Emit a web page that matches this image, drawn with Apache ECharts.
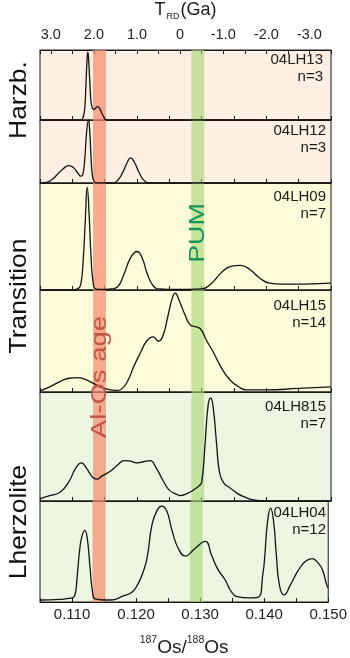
<!DOCTYPE html>
<html>
<head>
<meta charset="utf-8">
<script src="https://cdn.jsdelivr.net/npm/echarts@6/dist/echarts.min.js"></script>
<style>
  html, body { margin: 0; padding: 0; background: #ffffff; }
  #chart { width: 350px; height: 658px; }
</style>
</head>
<body>
<div id="chart"></div>
<script>
// Probability density of 187Os/188Os for each xenolith sample (relative density, peak ~1)
const LH13 = [
  [0.1050, 0], [0.1113, 0], [0.1116, 0.02], [0.1119, 0.15], [0.1121, 0.5], [0.1123, 0.9],
  [0.1124, 0.97], [0.1125, 0.9], [0.1127, 0.55], [0.1129, 0.25], [0.1131, 0.17], [0.1133, 0.15],
  [0.1136, 0.17], [0.1139, 0.19], [0.1142, 0.17], [0.1146, 0.09], [0.1150, 0.02], [0.1153, 0],
  [0.1500, 0]
];
const LH12 = [
  [0.1050, 0], [0.1058, 0.005], [0.1068, 0.05], [0.1080, 0.17], [0.1090, 0.26], [0.1095, 0.275],
  [0.1102, 0.24], [0.1109, 0.15], [0.1113, 0.11], [0.1116, 0.13], [0.1119, 0.35], [0.1122, 0.8],
  [0.1125, 1.0], [0.1127, 0.8], [0.1129, 0.4], [0.1131, 0.12], [0.1134, 0.02], [0.1138, 0],
  [0.1162, 0], [0.1170, 0.04], [0.1178, 0.17], [0.1185, 0.33], [0.1190, 0.40], [0.1196, 0.33],
  [0.1204, 0.15], [0.1212, 0.03], [0.1220, 0], [0.1500, 0]
];
const LH09 = [
  [0.1050, 0], [0.1100, 0], [0.1108, 0.01], [0.1113, 0.05], [0.1117, 0.3], [0.1120, 0.65],
  [0.1123, 0.96], [0.1126, 0.7], [0.1129, 0.3], [0.1132, 0.08], [0.1136, 0.01], [0.1145, 0.005],
  [0.1160, 0.01], [0.1170, 0.03], [0.1180, 0.15], [0.1190, 0.30], [0.1200, 0.36], [0.1208, 0.30],
  [0.1216, 0.15], [0.1225, 0.04], [0.1235, 0.01], [0.1260, 0.005], [0.1300, 0.01], [0.1315, 0.06],
  [0.1330, 0.16], [0.1345, 0.22], [0.1360, 0.23], [0.1375, 0.19], [0.1390, 0.11], [0.1405, 0.065],
  [0.1425, 0.055], [0.1450, 0.055], [0.1480, 0.06], [0.1500, 0.065]
];
const LH15 = [
  [0.1050, 0.01], [0.1065, 0.05], [0.1080, 0.10], [0.1095, 0.135], [0.1109, 0.14], [0.1125, 0.11],
  [0.1140, 0.06], [0.1155, 0.025], [0.1168, 0.015], [0.1175, 0.025], [0.1185, 0.10], [0.1195, 0.25],
  [0.1205, 0.38], [0.1215, 0.50], [0.1225, 0.54], [0.1233, 0.50], [0.1240, 0.55], [0.1248, 0.75],
  [0.1255, 0.93], [0.1259, 0.97], [0.1265, 0.90], [0.1274, 0.76], [0.1282, 0.66], [0.1290, 0.64],
  [0.1298, 0.62], [0.1308, 0.50], [0.1318, 0.39], [0.1333, 0.21], [0.1345, 0.11], [0.1355, 0.06],
  [0.1370, 0.02], [0.1400, 0.02], [0.1450, 0.035], [0.1500, 0.05]
];
const LH815 = [
  [0.1050, 0.02], [0.1065, 0.05], [0.1081, 0.08], [0.1095, 0.18], [0.1105, 0.30], [0.1114, 0.35],
  [0.1122, 0.30], [0.1131, 0.22], [0.1138, 0.20], [0.1146, 0.23], [0.1158, 0.27], [0.1170, 0.33],
  [0.1180, 0.37], [0.1190, 0.365], [0.1199, 0.35], [0.1210, 0.36], [0.1220, 0.37], [0.1230, 0.30],
  [0.1240, 0.19], [0.1250, 0.10], [0.1262, 0.06], [0.1267, 0.05], [0.1278, 0.07], [0.1287, 0.10],
  [0.1296, 0.14], [0.1300, 0.17], [0.1305, 0.50], [0.1310, 0.88], [0.1314, 0.945], [0.1318, 0.85],
  [0.1323, 0.53], [0.1328, 0.25], [0.1335, 0.16], [0.1344, 0.12], [0.1355, 0.07], [0.1365, 0.04],
  [0.1380, 0.01], [0.1400, 0], [0.1500, 0]
];
const LH04 = [
  [0.1050, 0.02], [0.1080, 0.025], [0.1095, 0.035], [0.1104, 0.06], [0.1108, 0.25], [0.1111, 0.46],
  [0.1115, 0.64], [0.1120, 0.71], [0.1124, 0.62], [0.1128, 0.35], [0.1132, 0.10], [0.1136, 0.03],
  [0.1150, 0.02], [0.1160, 0.02], [0.1180, 0.06], [0.1194, 0.10], [0.1203, 0.18], [0.1210, 0.28],
  [0.1217, 0.43], [0.1225, 0.77], [0.1233, 0.91], [0.1240, 0.95], [0.1248, 0.90], [0.1256, 0.71],
  [0.1266, 0.53], [0.1277, 0.455], [0.1292, 0.53], [0.1308, 0.60], [0.1318, 0.46], [0.1328, 0.32],
  [0.1339, 0.22], [0.1349, 0.10], [0.1360, 0.05], [0.1375, 0.04], [0.1390, 0.045], [0.1398, 0.28],
  [0.1401, 0.46], [0.1405, 0.78], [0.1410, 0.93], [0.1415, 0.78], [0.1419, 0.46], [0.1424, 0.16],
  [0.1431, 0.07], [0.1441, 0.17], [0.1452, 0.30], [0.1464, 0.40], [0.1475, 0.43], [0.1485, 0.38],
  [0.1491, 0.32], [0.1498, 0.16], [0.1500, 0.14]
];

const sampleCurves = [LH13, LH12, LH09, LH15, LH815, LH04];
const sampleNames = ['04LH13', '04LH12', '04LH09', '04LH15', '04LH815', '04LH04'];
const sampleCounts = [3, 3, 7, 14, 7, 12];
const lithologies = ['Harzb.', 'Transition', 'Lherzolite'];

// Reference ranges drawn as vertical bands
const alOsAgeBand = [0.1132, 0.1152];
const pumBand = [0.1284, 0.1304];

// Axis ranges
const osRange = [0.105, 0.150];
const trdRange = [-3.5, 3.25];

// ---- layout ----
const FONT = 'Liberation Sans, Arial, Helvetica, sans-serif';
const panelTops = [44, 120, 183, 290, 392, 501];
const panelBottom = 612;
const panelBg = ['#fdf0e2', '#fdf0e2', '#fdfbd9', '#fdfbd9', '#edf6e1', '#edf6e1'];
const plotLeft = 40, plotRight = 331;

const chart = echarts.init(document.getElementById('chart'), null, { renderer: 'canvas' });

const grids = [], xAxes = [], yAxes = [], series = [], graphics = [];

panelTops.forEach((top, i) => {
  const bottom = i < panelTops.length - 1 ? panelTops[i + 1] : panelBottom;
  grids.push({
    left: plotLeft, width: plotRight - plotLeft, top: top, height: bottom - top,
    show: true, backgroundColor: panelBg[i], borderColor: '#1a1a1a', borderWidth: 1
  });
  const isLast = i === panelTops.length - 1;
  xAxes.push({
    type: 'value', gridIndex: i, min: osRange[0], max: osRange[1], interval: 0.005,
    position: 'bottom',
    axisLine: { show: true, lineStyle: { color: '#1a1a1a', width: 1.2 } },
    axisTick: { show: true, inside: true, length: 4, lineStyle: { color: '#1a1a1a', width: 1 } },
    splitLine: { show: false },
    axisLabel: {
      show: isLast, margin: 5, fontSize: 15, color: '#1e1e1e', fontFamily: FONT,
      showMinLabel: true, showMaxLabel: true,
      formatter: v => { const k = Math.round(v * 1000); return k % 10 === 0 ? (k / 1000).toFixed(3) : ''; }
    },
    name: isLast ? '{sup|187}{m|Os/}{sup|188}{m|Os}' : '',
    nameLocation: 'middle', nameGap: 33,
    nameTextStyle: {
      fontFamily: FONT, color: '#1e1e1e',
      rich: {
        m: { fontSize: 19, fontFamily: FONT, color: '#1e1e1e', verticalAlign: 'bottom', lineHeight: 22 },
        sup: { fontSize: 10.5, fontFamily: FONT, color: '#1e1e1e', verticalAlign: 'top', lineHeight: 22 }
      }
    }
  });
  yAxes.push({ type: 'value', gridIndex: i, min: 0, max: 1, show: false });

  series.push({
    type: 'line', xAxisIndex: i, yAxisIndex: i, data: sampleCurves[i],
    symbol: 'none', smooth: 0.5, z: 2, silent: true,
    lineStyle: { color: '#141414', width: 1.3 }
  });
  series.push({
    type: 'line', xAxisIndex: i, yAxisIndex: i, data: [], z: 10, silent: true, symbol: 'none',
    markArea: {
      silent: true,
      data: [
        [{ xAxis: alOsAgeBand[0], itemStyle: { color: 'rgba(246,140,108,0.72)' } }, { xAxis: alOsAgeBand[1] }],
        [{ xAxis: pumBand[0], itemStyle: { color: 'rgba(168,214,118,0.62)' } }, { xAxis: pumBand[1] }]
      ]
    }
  });

  // sample name and number of analyses, top-right of each panel
  const labelRight = i === 0 ? 323 : 326;
  const nameY = [60, 131, 197, 306, 407, 513][i];
  graphics.push({
    type: 'text', x: labelRight, y: nameY, z: 100,
    style: { text: sampleNames[i], fontSize: 15, fontFamily: FONT, fill: '#1a1a1a', align: 'right', verticalAlign: 'middle' }
  });
  graphics.push({
    type: 'text', x: labelRight, y: nameY + 17, z: 100,
    style: { text: 'n=' + sampleCounts[i], fontSize: 15, fontFamily: FONT, fill: '#1a1a1a', align: 'right', verticalAlign: 'middle' }
  });
});

// Rhenium-depletion model age axis along the top of the first panel
xAxes.push({
  type: 'value', gridIndex: 0, position: 'top', inverse: true,
  min: trdRange[0], max: trdRange[1], interval: 0.5,
  axisLine: { show: true, lineStyle: { color: '#1a1a1a', width: 1.2 } },
  axisTick: { show: true, inside: true, length: 4, lineStyle: { color: '#1a1a1a', width: 1 } },
  splitLine: { show: false },
  axisLabel: {
    margin: 8, fontSize: 14.5, color: '#1e1e1e', fontFamily: FONT,
    formatter: v => {
      const r = Math.round(v);
      if (Math.abs(v - r) > 1e-6) return '';
      return r === 0 ? '0' : r.toFixed(1);
    }
  },
  name: '{m|T}{sub|RD}{m|(Ga)}',
  nameLocation: 'middle', nameGap: 29,
  nameTextStyle: {
    rich: {
      m: { fontSize: 18, fontFamily: FONT, color: '#1e1e1e', verticalAlign: 'top', lineHeight: 20 },
      sub: { fontSize: 9, fontFamily: FONT, color: '#1e1e1e', verticalAlign: 'bottom', lineHeight: 20, padding: [0, 1, 0, 1] }
    }
  }
});

// Lithology group labels on the left
const groupCenters = [100, 296, 522];
lithologies.forEach((t, k) => {
  graphics.push({
    type: 'text', x: 19, y: groupCenters[k], rotation: Math.PI / 2, scaleX: 1.1, z: 100,
    style: { text: t, fontSize: 24, fontFamily: FONT, fill: '#111', align: 'center', verticalAlign: 'middle' }
  });
});

// Band captions
graphics.push({
  type: 'text', x: 100, y: 377, rotation: Math.PI / 2, scaleX: 1.25, z: 100,
  style: { text: 'Al-Os age', fontSize: 22, fontFamily: FONT, fill: '#c0564a', align: 'center', verticalAlign: 'middle' }
});
graphics.push({
  type: 'text', x: 197.5, y: 233, rotation: Math.PI / 2, scaleX: 1.22, z: 100,
  style: { text: 'PUM', fontSize: 22, fontFamily: FONT, fill: '#16965a', align: 'center', verticalAlign: 'middle' }
});

chart.setOption({
  animation: false,
  backgroundColor: '#ffffff',
  grid: grids,
  xAxis: xAxes,
  yAxis: yAxes,
  series: series,
  graphic: { elements: graphics }
});
</script>
</body>
</html>
